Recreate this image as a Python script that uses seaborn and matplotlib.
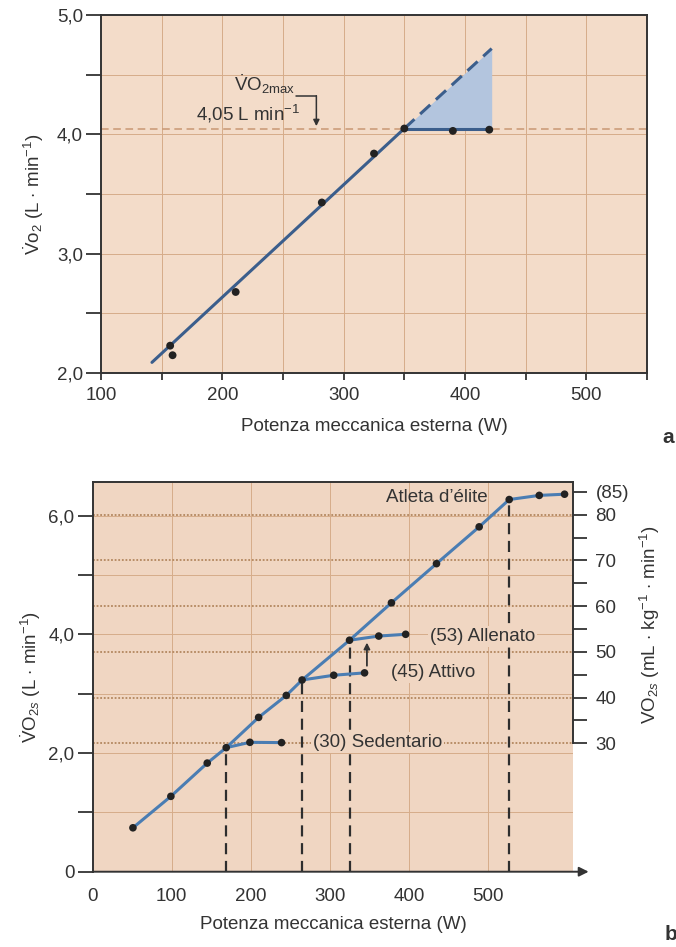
import numpy as np
import matplotlib
matplotlib.use("Agg")
import matplotlib.pyplot as plt
from matplotlib.ticker import FuncFormatter, MultipleLocator
import seaborn as sns

# ---------------- data: panel a ----------------
pot_a = [157, 159, 211, 282, 325, 350, 390, 420]
vo2_a = [2.23, 2.15, 2.68, 3.43, 3.84, 4.05, 4.03, 4.04]
fit_x = [142, 350]
fit_y = [2.09, 4.05]
extra_x = [350, 422]
extra_y = [4.05, 4.72]
vo2max = 4.05

# ---------------- data: panel b ----------------
main_x = [51, 99, 145, 169, 210, 245, 265, 325, 378, 435, 489, 527]
main_y = [0.74, 1.27, 1.83, 2.09, 2.60, 2.97, 3.23, 3.90, 4.53, 5.19, 5.81, 6.27]
sed_x = [169, 199, 239]
sed_y = [2.09, 2.18, 2.175]
att_x = [265, 305, 344]
att_y = [3.23, 3.31, 3.35]
all_x = [325, 362, 396]
all_y = [3.90, 3.97, 4.00]
eli_x = [527, 565, 597]
eli_y = [6.27, 6.34, 6.36]
branch_labels = ["(30) Sedentario", "(45) Attivo", "(53) Allenato", "Atleta d\u2019élite"]
right_ticks = [30, 40, 50, 60, 70, 80]
right_minor = [35, 45, 55, 65, 75]

# right axis (mL/kg/min) <-> left axis (L/min), as drawn
def to_left(v):
    return 0.077 * np.asarray(v) - 0.145

def to_right(v):
    return (np.asarray(v) + 0.145) / 0.077

sns.set_theme(style="ticks")
plt.rcParams['font.family'] = ['Liberation Sans', 'DejaVu Sans']
plt.rcParams['mathtext.fontset'] = 'custom'
plt.rcParams['mathtext.rm'] = 'Liberation Sans'
plt.rcParams['mathtext.it'] = 'Liberation Sans:italic'
plt.rcParams['mathtext.bf'] = 'Liberation Sans:bold'

bg = '#F3DCC9'
bg_b = '#F0D6C2'
grid_c = '#D6AC8A'
ink = '#333333'
blue_dark = '#3B5E8C'
blue = '#4A7DB3'
fs = 13.5

comma = FuncFormatter(lambda v, p: f'{v:.1f}'.replace('.', ','))

fig = plt.figure(figsize=(6.76, 9.47), dpi=100)

# ================= panel a =================
ax = fig.add_axes([0.1494, 0.606, 0.8077, 0.378])
ax.set_facecolor(bg)
ax.set_xlim(100, 550)
ax.set_ylim(2, 5)
ax.xaxis.set_major_locator(MultipleLocator(100))
ax.xaxis.set_minor_locator(MultipleLocator(50))
ax.yaxis.set_major_locator(MultipleLocator(1))
ax.yaxis.set_minor_locator(MultipleLocator(0.5))
ax.yaxis.set_major_formatter(comma)
for v in np.arange(150, 551, 50):
    ax.axvline(v, color=grid_c, lw=0.7, zorder=0)
for v in np.arange(2.5, 5.0, 0.5):
    ax.axhline(v, color=grid_c, lw=0.7, zorder=0)

ax.axhline(vo2max, color='#C99873', lw=1.1, ls=(0, (5, 3)), zorder=1)
ax.fill_between(extra_x, [vo2max, vo2max], extra_y, color='#B3C5DE', zorder=2, lw=0)
sns.lineplot(x=fit_x, y=fit_y, ax=ax, color=blue_dark, lw=2.2, sort=False, estimator=None, zorder=3)
ax.plot(extra_x, extra_y, color=blue_dark, lw=2.2, ls=(0, (4.5, 2.5)), zorder=3)
sns.lineplot(x=[extra_x[0], pot_a[-1]], y=[vo2max, vo2max], ax=ax, color=blue_dark, lw=2.2,
             sort=False, estimator=None, zorder=3)
sns.scatterplot(x=pot_a, y=vo2_a, ax=ax, color='#222222', s=32, edgecolor='none', zorder=4)

ax.text(260, 4.42, r'$\dot{\mathrm{V}}$O$_{\mathrm{2max}}$', ha='right', va='center', fontsize=fs, color=ink)
ax.text(264, 4.17, r'4,05 L min$^{-1}$', ha='right', va='center', fontsize=fs, color=ink)
ax.plot([261, 277.5], [4.32, 4.32], color=ink, lw=1.1)
ax.annotate('', xy=(277.5, 4.07), xytext=(277.5, 4.325),
            arrowprops=dict(arrowstyle='-|>', color=ink, lw=1.1, mutation_scale=9, shrinkA=0, shrinkB=0))

ax.set_xlabel('Potenza meccanica esterna (W)', fontsize=fs, color=ink, labelpad=10)
ax.set_ylabel(r'$\dot{\mathrm{V}}$o$_2$ (L $\cdot$ min$^{-1}$)', fontsize=fs, color=ink, labelpad=8)
ax.tick_params(axis='y', which='both', length=11, width=1.3, color=ink, labelsize=fs, labelcolor=ink, pad=2)
ax.tick_params(axis='x', which='both', length=5, width=1.3, color=ink, labelsize=fs, labelcolor=ink, pad=5)
for s in ax.spines.values():
    s.set_color(ink)
    s.set_linewidth(1.4)
fig.text(0.988, 0.538, 'a', fontsize=15, fontweight='bold', color=ink, ha='center', va='center')

# ================= panel b =================
bx = fig.add_axes([0.137, 0.0795, 0.711, 0.4118])
bx.set_facecolor(bg_b)
bx.set_xlim(0, 608)
bx.set_ylim(0, 6.57)
bx.set_xticks([0, 100, 200, 300, 400, 500])
bx.yaxis.set_major_locator(MultipleLocator(2))
bx.yaxis.set_minor_locator(MultipleLocator(1))
bx.yaxis.set_major_formatter(FuncFormatter(lambda v, p: '0' if v == 0 else f'{v:.1f}'.replace('.', ',')))
for v in range(100, 501, 100):
    bx.axvline(v, color=grid_c, lw=0.7, zorder=0)
for v in range(1, 7):
    bx.axhline(v, color=grid_c, lw=0.7, zorder=0)
for v in right_ticks:
    bx.axhline(to_left(v), color='#B3875F', lw=1.3, ls=(0, (1, 1)), zorder=0.5)

# vertical dashed lines at the break points
brk_x = [sed_x[0], att_x[0], all_x[0], eli_x[0]]
brk_y = [sed_y[0], att_y[0], all_y[0], eli_y[0]]
bx.vlines(brk_x, 0, brk_y, colors='#2E2E2E', lw=1.6, linestyles=(0, (5, 3)), zorder=1)

for xs, ys in [(main_x, main_y), (sed_x, sed_y), (att_x, att_y), (all_x, all_y), (eli_x, eli_y)]:
    sns.lineplot(x=xs, y=ys, ax=bx, color=blue, lw=2.2, sort=False, estimator=None, zorder=3)
all_px = main_x + sed_x[1:] + att_x[1:] + all_x[1:] + eli_x[1:]
all_py = main_y + sed_y[1:] + att_y[1:] + all_y[1:] + eli_y[1:]
sns.scatterplot(x=all_px, y=all_py, ax=bx, color='#222222', s=30, edgecolor='none', zorder=4)

lab_box = dict(facecolor=bg_b, edgecolor='none', pad=1.5)
bx.text(279, sed_y[-1], branch_labels[0], ha='left', va='center', fontsize=fs, color=ink, bbox=lab_box, zorder=2)
bx.text(378, att_y[-1], branch_labels[1], ha='left', va='center', fontsize=fs, color=ink, bbox=lab_box, zorder=2)
bx.text(427, all_y[-1] - 0.04, branch_labels[2], ha='left', va='center', fontsize=fs, color=ink, bbox=lab_box, zorder=2)
bx.text(500, 6.30, branch_labels[3], ha='right', va='center', fontsize=fs, color=ink, zorder=2)
bx.annotate('', xy=(347, 3.86), xytext=(347, 3.47),
            arrowprops=dict(arrowstyle='-|>', color=ink, lw=1.3, mutation_scale=9, shrinkA=0, shrinkB=0))

bx.set_xlabel('Potenza meccanica esterna (W)', fontsize=fs, color=ink, labelpad=8)
bx.set_ylabel(r'$\dot{\mathrm{V}}$O$_{2s}$ (L $\cdot$ min$^{-1}$)', fontsize=fs, color=ink, labelpad=4)
bx.tick_params(axis='y', which='both', length=11, width=1.3, color=ink, labelsize=fs, labelcolor=ink, pad=2)
bx.tick_params(axis='x', which='both', length=0, labelsize=fs, labelcolor=ink, pad=12)
for s in bx.spines.values():
    s.set_color(ink)
    s.set_linewidth(1.4)
bx.spines['bottom'].set_visible(False)
bx.spines['right'].set_visible(False)
bx.annotate('', xy=(1.032, 0), xytext=(0, 0), xycoords='axes fraction', textcoords='axes fraction',
            arrowprops=dict(arrowstyle='-|>', color=ink, lw=1.4, mutation_scale=14, shrinkA=0, shrinkB=0))

# right axis in mL/kg/min
b2 = bx.twinx()
b2.set_ylim(to_right(0), to_right(6.57))
b2.set_yticks(right_ticks + [85])
b2.set_yticklabels([str(v) for v in right_ticks] + ['(85)'])
b2.set_yticks(right_minor, minor=True)
b2.tick_params(axis='y', which='both', length=10, width=1.3, color=ink, labelsize=fs, labelcolor=ink, pad=6)
for s in ['top', 'left', 'bottom']:
    b2.spines[s].set_visible(False)
b2.spines['right'].set_bounds(30, to_right(6.57))
b2.spines['right'].set_color(ink)
b2.spines['right'].set_linewidth(1.4)
b2.set_ylabel(r'VO$_{2s}$ (mL $\cdot$ kg$^{-1}$ $\cdot$ min$^{-1}$)', fontsize=fs, color=ink)
b2.yaxis.set_label_coords(1.135, 0.633)
fig.text(0.993, 0.013, 'b', fontsize=15, fontweight='bold', color=ink, ha='center', va='center')

fig.savefig('out.png', dpi=100, facecolor='white')
